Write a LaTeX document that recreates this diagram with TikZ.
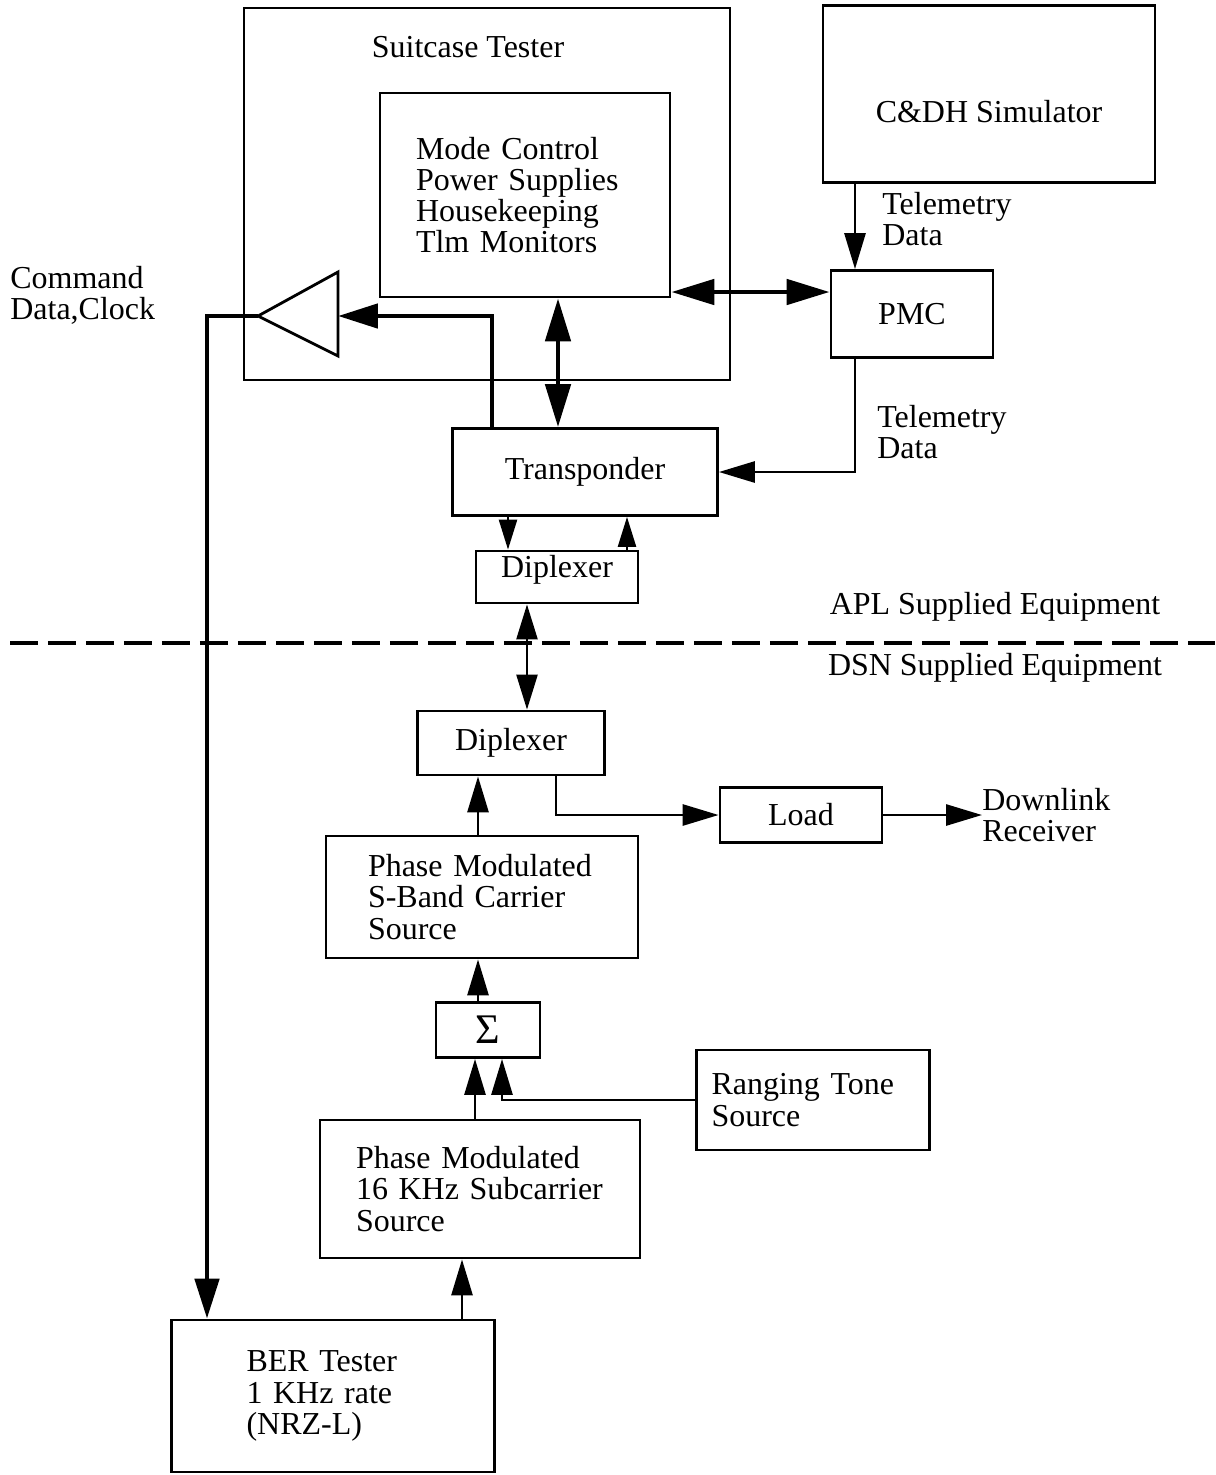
\documentclass[tikz,border=0pt]{standalone}
\usepackage{fontspec}
\setmainfont{Liberation Serif}
\usetikzlibrary{arrows.meta}

\begin{document}
\begin{tikzpicture}[
    x=0.02cm, y=-0.02cm,
    every node/.style={font=\fontsize{18.2}{17.8}\selectfont, inner sep=0pt},
    box/.style={draw, line width=1.6pt, align=left},
    lbl/.style={align=left, anchor=west},
    link/.style={line width=1.6pt, -{Triangle[length=0.72cm, width=0.42cm]}},
    short/.style={line width=1.4pt, -{Triangle[length=0.6cm, width=0.36cm]}},
    heavy/.style={line width=2.8pt, -{Triangle[length=0.8cm, width=0.48cm]}},
    heavy2/.style={line width=2.8pt, {Triangle[length=0.86cm, width=0.5cm]}-{Triangle[length=0.86cm, width=0.5cm]}},
    thin2/.style={line width=1.4pt, {Triangle[length=0.7cm, width=0.42cm]}-{Triangle[length=0.7cm, width=0.42cm]}}
]
\useasboundingbox (0,0) rectangle (1215,1475);

% APL side
\node (suitcase) [box, minimum width=9.72cm, minimum height=7.44cm] at (487,194) {};
\node (stlbl) at (468,47) {Suitcase Tester};
\node (ctrl) [box, minimum width=5.8cm, minimum height=4.08cm,
    inner xsep=0.72cm, text width=4.36cm] at (525,195)
    {Mode Control\\Power Supplies\\Housekeeping\\Tlm Monitors};
\node (cdh) [box, minimum width=6.64cm, minimum height=3.54cm] at (989,94) {};
\node (cdhtxt) at ([yshift=-0.36cm]cdh.center) {C\&DH Simulator};
\node (pmc) [box, minimum width=3.24cm, minimum height=1.74cm] at (912,314) {PMC};
\node (xpdr) [box, minimum width=5.3cm, minimum height=1.74cm] at (585,472) {Transponder};
\node (dipA) [box, minimum width=3.24cm, minimum height=1.04cm] at (557,577) {};
\node (dipAtxt) at ([yshift=0.14cm]dipA.center) {Diplexer};

% amplifier
\coordinate (amptip) at (258,316);
\coordinate (ampback) at (338,316);
\draw[line width=1.6pt] (amptip) -- (338,272) -- (338,356) -- cycle;

% DSN side
\node (dipB) [box, minimum width=3.74cm, minimum height=1.28cm] at (511,743) {Diplexer};
\node (load) [box, minimum width=3.24cm, minimum height=1.1cm] at (801,815) {Load};
\node (sband) [box, minimum width=6.24cm, minimum height=2.44cm,
    inner xsep=0.84cm, text width=4.56cm] at (482,897)
    {Phase Modulated\\S-Band Carrier\\Source};
\node (sum) [box, minimum width=2.08cm, minimum height=1.1cm,
    font=\fontsize{24}{24}\selectfont] at (488,1030) {Σ};
\node (ranging) [box, minimum width=4.66cm, minimum height=2.0cm,
    inner xsep=0.3cm, text width=4.06cm] at (813,1100)
    {Ranging Tone\\Source};
\node (subcar) [box, minimum width=6.4cm, minimum height=2.76cm,
    inner xsep=0.72cm, text width=4.96cm] at (480,1189)
    {Phase Modulated\\16 KHz Subcarrier\\Source};
\node (ber) [box, minimum width=6.46cm, minimum height=3.04cm,
    inner xsep=1.5cm, text width=3.46cm] at (333,1396)
    {BER Tester\\1 KHz rate\\(NRZ-L)};

% labels
\node (cmdlbl) [lbl] at (10,295) {Command\\Data,Clock};
\node (tlm1) [lbl] at (882,219) {Telemetry\\Data};
\node (tlm2) [lbl] at (877,432) {Telemetry\\Data};
\node (apl) at (995,607) {APL Supplied Equipment};
\node (dsn) at (995,668) {DSN Supplied Equipment};
\node (rx) [lbl] at (982,815) {Downlink\\Receiver};

% divider
\draw[line width=1.8pt, dash pattern=on 0.56cm off 0.2cm] (10,643) -- (1215,643);

% connectors
\draw[link] (cdh.south -| 855,0) -- (pmc.north -| 855,0);
\draw[heavy2] (ctrl.east |- 0,292) -- (pmc.west |- 0,292);
\draw[heavy2] (ctrl.south -| 558,0) -- (xpdr.north -| 558,0);
\draw[heavy] (xpdr.north -| 492,0) |- (ampback);
\draw[heavy] (amptip) -| (ber.north -| 207,0);
\draw[link] (pmc.south -| 855,0) |- (xpdr.east);
\draw[short] (xpdr.south -| 508,0) -- (dipA.north -| 508,0);
\draw[short] (dipA.north -| 627,0) -- (xpdr.south -| 627,0);
\draw[thin2] (dipA.south -| 527,0) -- (dipB.north -| 527,0);
\draw[link] (sband.north -| 478,0) -- (dipB.south -| 478,0);
\draw[link] (dipB.south -| 556,0) |- (load.west);
\draw[link] (load.east) -- (rx.west);
\draw[link] (sum.north -| 478,0) -- (sband.south -| 478,0);
\draw[link] (subcar.north -| 475,0) -- (sum.south -| 475,0);
\draw[link] (ranging.west) -| (sum.south -| 502,0);
\draw[link] (ber.north -| 462,0) -- (subcar.south -| 462,0);

\end{tikzpicture}
\end{document}
